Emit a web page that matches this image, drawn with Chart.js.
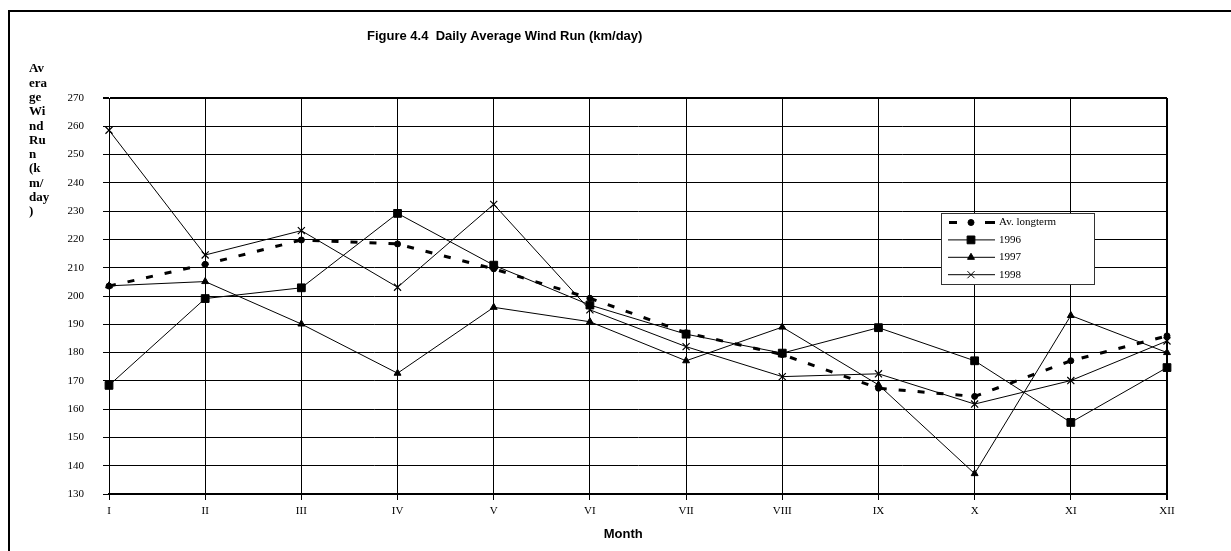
<!DOCTYPE html>
<html>
<head>
<meta charset="utf-8">
<script src="https://cdn.jsdelivr.net/npm/chart.js@4.4.0/dist/chart.umd.min.js"></script>
<style>
  html, body { margin: 0; padding: 0; background: #fff; }
  #wrap { width: 1231px; height: 551px; position: relative; }
</style>
</head>
<body>
<div id="wrap"><canvas id="c"></canvas></div>
<script>
// ---- data ----
const months = ['I','II','III','IV','V','VI','VII','VIII','IX','X','XI','XII'];
const avLongterm = [203.5, 211.2, 219.8, 218.4, 209.6, 199.2, 187.0, 179.3, 167.4, 164.5, 177.1, 185.9];
const y1996 = [168.4, 199.1, 202.9, 229.2, 210.9, 196.8, 186.5, 179.8, 188.8, 177.1, 155.3, 174.7];
const y1997 = [203.6, 205.1, 190.1, 172.7, 196.0, 190.9, 177.1, 189.0, 168.6, 137.2, 193.1, 180.0];
const y1998 = [258.6, 214.5, 223.1, 203.1, 232.4, 195.1, 182.1, 171.5, 172.5, 161.8, 170.1, 184.1];
const seriesLabels = ['Av. longterm', '1996', '1997', '1998'];
const chartTitle = 'Figure 4.4  Daily Average Wind Run (km/day)';
const xTitle = 'Month';
const yTitleLines = ['Av', 'era', 'ge', 'Wi', 'nd', 'Ru', 'n', '(k', 'm/', 'day', ')'];
const yMin = 130, yMax = 270, yStep = 10;

Chart.defaults.color = '#000';

const decor = {
  id: 'decor',
  beforeDraw(chart) {
    const ctx = chart.ctx;
    ctx.save();
    ctx.fillStyle = '#fff';
    ctx.fillRect(0, 0, chart.width, chart.height);
    ctx.strokeStyle = '#000';
    ctx.lineWidth = 2;
    ctx.strokeRect(9, 11, chart.width + 20, chart.height + 20);
    ctx.restore();
  },
  afterDraw(chart) {
    const ctx = chart.ctx;
    const area = chart.chartArea;
    ctx.save();
    ctx.fillStyle = '#000';
    // title
    ctx.font = 'bold 13px "Liberation Sans", Arial, sans-serif';
    ctx.textAlign = 'left';
    ctx.textBaseline = 'middle';
    ctx.fillText(chartTitle, 367, 36);
    // y title (stacked)
    ctx.font = 'bold 13px "Liberation Serif", "Times New Roman", serif';
    yTitleLines.forEach((t, i) => ctx.fillText(t, 29, 69 + i * 14.3));
    // x title
    ctx.font = 'bold 13px "Liberation Sans", Arial, sans-serif';
    ctx.textAlign = 'center';
    ctx.fillText(xTitle, area.left + (area.right - area.left) * 0.486, 534);
    // legend
    const lx = 941, ly = 213, lw = 153, lh = 71;
    ctx.fillStyle = '#fff';
    ctx.fillRect(lx, ly, lw, lh);
    ctx.strokeStyle = '#333';
    ctx.lineWidth = 1;
    ctx.strokeRect(lx + 0.5, ly + 0.5, lw, lh);
    ctx.font = '11px "Liberation Serif", "Times New Roman", serif';
    ctx.textAlign = 'left';
    chart.data.datasets.forEach((ds, i) => {
      const yy = 222.5 + i * 17.4;
      ctx.save();
      ctx.strokeStyle = '#000';
      ctx.lineWidth = ds.borderWidth;
      ctx.beginPath();
      if (ds.borderDash) {
        ctx.moveTo(949, yy); ctx.lineTo(957, yy);
        ctx.moveTo(985, yy); ctx.lineTo(995, yy);
      } else {
        ctx.moveTo(948, yy); ctx.lineTo(995, yy);
      }
      ctx.stroke();
      ctx.lineWidth = 1;
      ctx.fillStyle = '#000';
      Chart.helpers.drawPoint(ctx, { pointStyle: ds.pointStyle, radius: ds.pointRadius, borderWidth: ds.pointBorderWidth || 1, rotation: 0 }, 971, yy);
      ctx.restore();
      ctx.fillStyle = '#000';
      ctx.fillText(ds.label, 999, yy);
    });
    ctx.restore();
  }
};

new Chart(document.getElementById('c'), {
  type: 'line',
  data: {
    labels: months,
    datasets: [
      { label: seriesLabels[0], data: avLongterm, borderColor: '#000', backgroundColor: '#000', borderWidth: 3, borderDash: [7, 12], pointStyle: 'circle', pointRadius: 3, pointBorderWidth: 1, tension: 0, fill: false },
      { label: seriesLabels[1], data: y1996, borderColor: '#000', backgroundColor: '#000', borderWidth: 1, pointStyle: 'rect', pointRadius: 5.5, pointBorderWidth: 1, tension: 0, fill: false },
      { label: seriesLabels[2], data: y1997, borderColor: '#000', backgroundColor: '#000', borderWidth: 1, pointStyle: 'triangle', pointRadius: 4, pointBorderWidth: 1, tension: 0, fill: false },
      { label: seriesLabels[3], data: y1998, borderColor: '#000', backgroundColor: '#000', borderWidth: 1, pointStyle: 'crossRot', pointRadius: 5, pointBorderWidth: 1.2, tension: 0, fill: false }
    ]
  },
  options: {
    responsive: true,
    maintainAspectRatio: false,
    animation: false,
    devicePixelRatio: 1,
    layout: { padding: { top: 98, right: 64, bottom: 0, left: 0 } },
    plugins: { legend: { display: false }, title: { display: false }, tooltip: { enabled: false } },
    scales: {
      x: {
        type: 'category',
        offset: false,
        grid: {
          color: '#000',
          lineWidth: (c) => (c.index === months.length - 1 ? 2 : 1),
          drawTicks: true,
          tickLength: 6
        },
        border: { display: true, color: '#000', width: 2 },
        ticks: { font: { family: '"Liberation Serif", "Times New Roman", serif', size: 11 }, color: '#000', padding: 5, maxRotation: 0, autoSkip: false },
        afterFit: (s) => { s.height = 57; }
      },
      y: {
        min: yMin,
        max: yMax,
        grid: {
          color: '#000',
          lineWidth: (c) => (c.tick && c.tick.value === yMax ? 2 : 1),
          drawTicks: true,
          tickLength: 6
        },
        border: { display: true, color: '#000', width: 1 },
        ticks: { stepSize: yStep, font: { family: '"Liberation Serif", "Times New Roman", serif', size: 11 }, color: '#000', padding: 19 },
        afterFit: (s) => { s.width = 109; }
      }
    }
  },
  plugins: [decor]
});
</script>
</body>
</html>
